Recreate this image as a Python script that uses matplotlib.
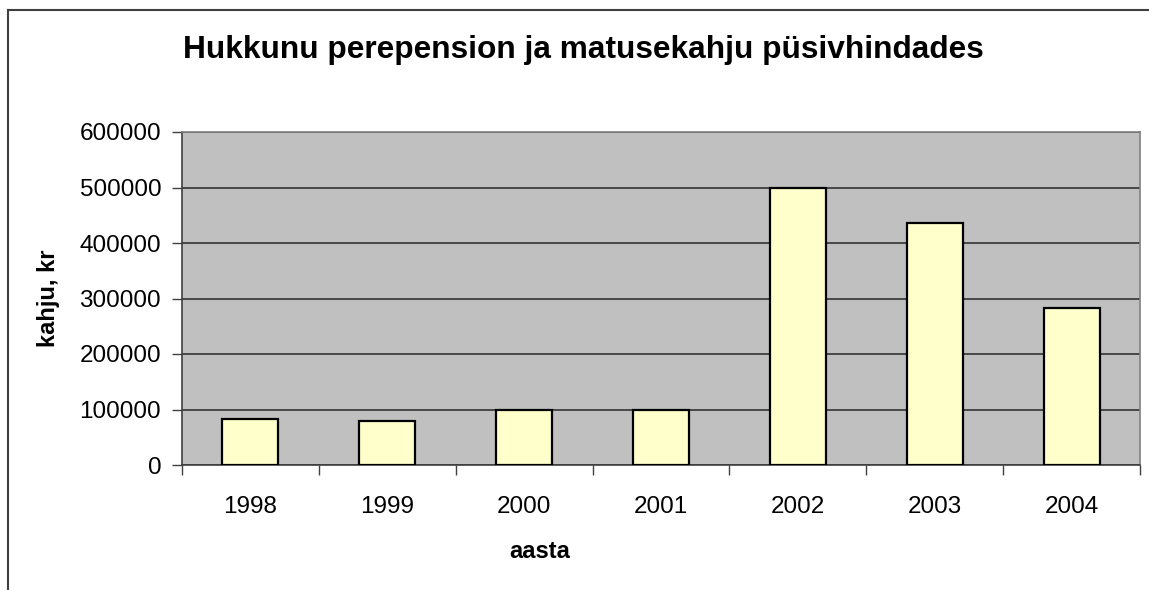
import matplotlib
matplotlib.use("Agg")
import matplotlib.pyplot as plt
from matplotlib.lines import Line2D

plt.rcParams['font.family'] = ['Liberation Sans', 'DejaVu Sans']

years = ['1998', '1999', '2000', '2001', '2002', '2003', '2004']
kahju = [82000, 79000, 99000, 99000, 499000, 436000, 283000]
yticks = [0, 100000, 200000, 300000, 400000, 500000, 600000]

fig = plt.figure(figsize=(11.49, 5.90), dpi=100)
ax = fig.add_axes([182 / 1149, 1 - 465 / 590, (1140 - 182) / 1149, (465 - 132) / 590])
ax.set_facecolor('#C0C0C0')

x = list(range(len(years)))
ax.bar(x, kahju, width=0.41, color='#FFFFCC', edgecolor='black', linewidth=1.6, zorder=3)

ax.set_xlim(-0.5, len(years) - 0.5)
ax.set_ylim(0, 600000)
ax.set_yticks(yticks)
ax.set_yticklabels([str(v) for v in yticks], fontsize=17.5)
ax.set_xticks(x)
ax.set_xticklabels(years, fontsize=17.5)
ax.set_xticks([i - 0.5 for i in range(len(years) + 1)], minor=True)
ax.tick_params(axis='x', which='major', length=0, pad=22)
ax.tick_params(axis='x', which='minor', length=7, width=1, color='#404040')
ax.tick_params(axis='y', length=7, width=1, color='#404040', pad=8)
ax.grid(axis='y', color='#333333', linewidth=1.2, zorder=1)
ax.set_axisbelow(True)

for s in ['left', 'bottom']:
    ax.spines[s].set_color('#404040')
    ax.spines[s].set_linewidth(1.2)
for s in ['top', 'right']:
    ax.spines[s].set_color('#808080')
    ax.spines[s].set_linewidth(1.2)

ax.set_ylabel('kahju, kr', fontsize=17, fontweight='bold', labelpad=14)
ax.set_xlabel('aasta', fontsize=17, fontweight='bold', labelpad=16)
ax.xaxis.label.set_x((540 - 182) / 958)

fig.text(583 / 1149, 1 - 50 / 590, 'Hukkunu perepension ja matusekahju püsivhindades',
         fontsize=22.8, fontweight='bold', ha='center', va='center')

# raam ümber diagrammi
fig.add_artist(Line2D([8 / 1149, 8 / 1149], [0, 1 - 10 / 590], transform=fig.transFigure,
                      color='#404040', linewidth=1.5))
fig.add_artist(Line2D([8 / 1149, 1], [1 - 10 / 590, 1 - 10 / 590], transform=fig.transFigure,
                      color='#404040', linewidth=1.5))

fig.savefig('out.png', dpi=100)
